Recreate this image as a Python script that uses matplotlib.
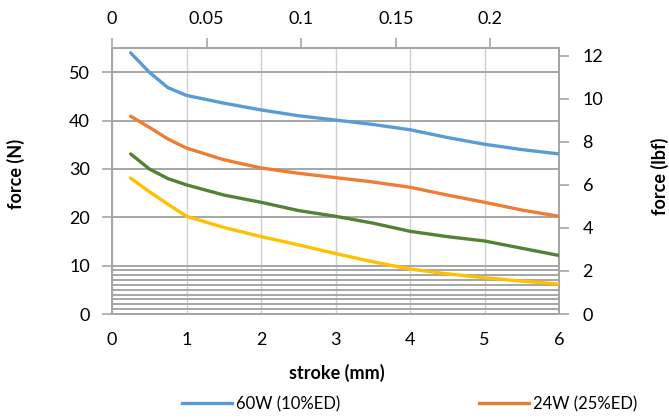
import numpy as np
import matplotlib.pyplot as plt
from matplotlib.lines import Line2D

plt.rcParams['font.family'] = ['Lato', 'DejaVu Sans']

# stroke in mm, force in N
stroke = [0.25, 0.5, 0.75, 1, 1.5, 2, 2.5, 3, 3.5, 4, 4.5, 5, 5.5, 6]
f_60w = [54, 50, 46.8, 45.2, 43.6, 42.2, 41, 40.1, 39.2, 38.1, 36.5, 35.1, 34, 33.1]
f_24w = [40.9, 38.6, 36.2, 34.3, 31.9, 30.2, 29.1, 28.2, 27.3, 26.2, 24.6, 23.1, 21.5, 20.2]
f_green = [33.1, 30, 28, 26.7, 24.6, 23.1, 21.4, 20.2, 18.8, 17.1, 16, 15.1, 13.6, 12.1]
f_yellow = [28.1, 25.3, 22.7, 20.2, 17.9, 16, 14.3, 12.5, 10.8, 9.3, 8.3, 7.5, 6.8, 6.2]

labels = ['60W (10%ED)', '24W (25%ED)']
colors = ['#5B9BD5', '#ED7D31', '#548235', '#FFC000']

N_PER_LBF = 4.448
MM_PER_IN = 25.4
grid_dark = '#a6a6a6'
grid_light = '#d0d0d0'

fig = plt.figure(figsize=(6.69, 4.19), dpi=100)
ax = fig.add_axes([112 / 669, 1 - 314 / 419, (559 - 112) / 669, (314 - 48) / 419])

# gridlines
for x in range(0, 7):
    ax.axvline(x, color=grid_light, lw=1.0, zorder=0)
for y in list(range(0, 11)) + [20, 30, 40, 50]:
    ax.axhline(y, color=grid_dark, lw=1.4, zorder=0)

for vals, c in zip([f_60w, f_24w, f_green, f_yellow], colors):
    ax.plot(stroke, vals, color=c, lw=2.4, solid_capstyle='round', zorder=3)

ax.set_xlim(0, 6)
ax.set_ylim(0, 55)
ax.set_xticks(range(0, 7))
ax.set_yticks(range(0, 51, 10))

for s in ax.spines.values():
    s.set_color(grid_dark)
    s.set_linewidth(1.4)

ax.tick_params(axis='x', length=0, pad=13, labelsize=13)
ax.tick_params(axis='y', length=7, width=1.2, color=grid_dark, pad=9, labelsize=13, direction='out')

# top axis in inches
top = ax.secondary_xaxis('top', functions=(lambda v: v / MM_PER_IN, lambda v: v * MM_PER_IN))
top.set_xticks([0, 0.05, 0.1, 0.15, 0.2])
top.set_xticklabels(['0', '0.05', '0.1', '0.15', '0.2'])
top.tick_params(length=7, width=1.2, color=grid_dark, pad=8, labelsize=13)
top.spines['top'].set_color(grid_dark)
top.spines['top'].set_linewidth(1.4)

# right axis in lbf
right = ax.secondary_yaxis('right', functions=(lambda v: v / N_PER_LBF, lambda v: v * N_PER_LBF))
right.set_yticks(range(0, 13, 2))
right.tick_params(length=7, width=1.2, color=grid_dark, pad=10, labelsize=13)
right.spines['right'].set_color(grid_dark)
right.spines['right'].set_linewidth(1.4)

fig.text(16 / 669, 1 - 174 / 419, 'force (N)', rotation=90, ha='center', va='center',
         fontsize=13, fontweight='bold')
fig.text(660 / 669, 1 - 176 / 419, 'force (lbf)', rotation=90, ha='center', va='center',
         fontsize=13, fontweight='bold')
fig.text(337 / 669, 1 - 373 / 419, 'stroke (mm)', ha='center', va='center',
         fontsize=13, fontweight='bold')

handles = [Line2D([], [], color=c, lw=2.4) for c in colors[:2]]
fig.legend(handles, labels, loc='center left', bbox_to_anchor=(167 / 669, 1 - 404 / 419),
           ncol=2, frameon=False, fontsize=12, handlelength=3.0, handletextpad=0.25,
           columnspacing=8.3)

plt.savefig('out.png', dpi=100)
